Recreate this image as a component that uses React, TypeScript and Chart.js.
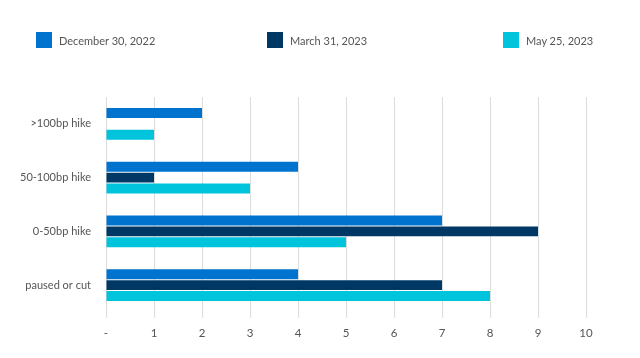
import React, { useEffect, useRef } from "react";
import { Chart, registerables } from "chart.js";

Chart.register(...registerables);

const categories = [">100bp hike", "50-100bp hike", "0-50bp hike", "paused or cut"];
const seriesNames = ["December 30, 2022", "March 31, 2023", "May 25, 2023"];
const dec2022 = [2, 4, 7, 4];
const mar2023 = [0, 1, 9, 7];
const may2023 = [1, 3, 5, 8];
const colors = ["#0073CF", "#003865", "#00C3DC"];
const legendX = [36, 267, 503];

const FONT = "Lato, 'Open Sans', sans-serif";

export default function App() {
  const ref = useRef<HTMLCanvasElement | null>(null);
  useEffect(() => {
    if (!ref.current) return;
    const values = [dec2022, mar2023, may2023];
    const chart = new Chart(ref.current, {
      type: "bar",
      data: {
        labels: categories,
        datasets: seriesNames.map((n, i) => ({
          label: n,
          data: values[i],
          backgroundColor: colors[i],
          borderWidth: 0,
          categoryPercentage: 0.61,
          barPercentage: 0.91,
        })),
      },
      options: {
        indexAxis: "y",
        animation: false,
        responsive: false,
        maintainAspectRatio: false,
        layout: { padding: { left: 0, right: 54, top: 97, bottom: 0 } },
        plugins: { legend: { display: false }, tooltip: { enabled: false } },
        scales: {
          x: {
            min: 0,
            max: 10,
            ticks: {
              stepSize: 1,
              color: "#555",
              font: { family: FONT, size: 11.5 },
              padding: 8,
              callback: (v: any) => (Number(v) === 0 ? "-" : String(v)),
            },
            grid: { color: "#dcdcdc", tickLength: 6, drawTicks: true },
            border: { display: false },
            afterFit: (s: any) => {
              s.height = 46;
            },
          },
          y: {
            ticks: { color: "#555", font: { family: FONT, size: 11 }, padding: 7 },
            grid: { display: false },
            border: { display: false },
            afterFit: (s: any) => {
              s.width = 106;
            },
          },
        },
      },
    });
    return () => chart.destroy();
  }, []);
  return (
    <div style={{ position: "absolute", left: 0, top: 0, width: 640, height: 358, background: "#fff" }}>
      <canvas ref={ref} width={640} height={358} style={{ position: "absolute", left: 0, top: 0 }} />
      {seriesNames.map((n, i) => (
        <div
          key={n}
          style={{
            position: "absolute",
            left: legendX[i],
            top: 32,
            height: 16,
            display: "flex",
            alignItems: "center",
            fontFamily: FONT,
            fontSize: 11,
            color: "#555",
            whiteSpace: "nowrap",
          }}
        >
          <span style={{ display: "inline-block", width: 16, height: 16, background: colors[i], marginRight: 7 }} />
          {n}
        </div>
      ))}
    </div>
  );
}
